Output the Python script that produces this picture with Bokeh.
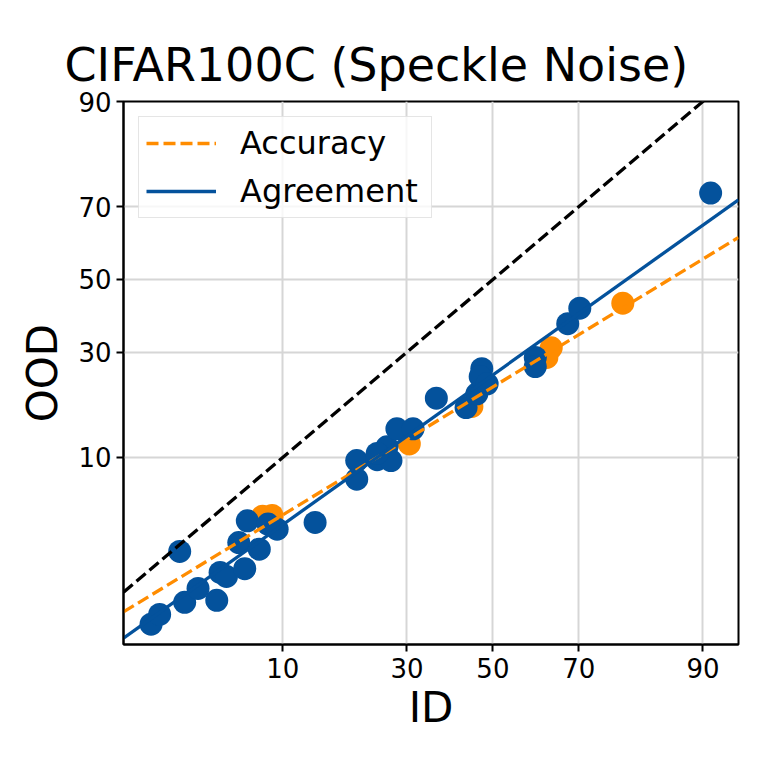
from statistics import NormalDist
from bokeh.plotting import figure
from bokeh.models import Range1d, FixedTicker, CustomJSTickFormatter, Legend, LegendItem, Title
from bokeh.embed import file_html
from bokeh.resources import INLINE

# ---- data (percent) ----
title_text = "CIFAR100C (Speckle Noise)"
tick_values = [10, 30, 50, 70, 90]
tick_labels = ["10", "30", "50", "70", "90"]

blue_id = [2.8, 1.85, 2.1, 3.0, 3.6, 4.6, 4.8, 5.2, 6.5, 6.05, 6.7, 7.7, 8.5, 9.4, 13.9,
           20.3, 20.3, 24.0, 25.9, 27.9, 31.3, 26.7, 24.0, 36.5, 43.5, 46.1, 47.3, 46.9,
           48.6, 60.2, 60.2, 67.6, 70.2, 90.8]
blue_ood = [2.5, 0.65, 0.79, 1.0, 1.3, 1.04, 1.74, 1.62, 1.86, 2.9, 4.1, 2.6, 3.9, 3.6, 4.0,
            9.6, 7.5, 9.7, 11.4, 14.1, 14.1, 9.6, 10.5, 19.6, 17.8, 20.5, 26.0, 24.2,
            22.6, 28.7, 26.5, 37.5, 41.8, 73.3]

orange_id = [8.0, 8.9, 30.5, 44.9, 62.9, 63.9, 78.6]
orange_ood = [4.4, 4.45, 11.8, 18.0, 28.7, 31.1, 43.2]

line_id = [1.21, 93.3]
acc_fit_ood = [0.83, 61.9]
agr_fit_ood = [0.487, 71.7]
diag_ood = [1.21, 93.3]

x_lim = [1.21, 93.3]
y_lim = [0.427, 90.0]

BLUE = "#04529c"
ORANGE = "#ff8c00"
FONT = "DejaVu Sans"

nd = NormalDist()


def probit(vals):
    return [nd.inv_cdf(v / 100.0) for v in vals]


p = figure(width=761, height=761, output_backend="svg", toolbar_location=None,
           x_range=Range1d(*probit(x_lim)), y_range=Range1d(*probit(y_lim)),
           min_border_left=123, min_border_right=23, min_border_top=101, min_border_bottom=117)

p.title = Title(text=title_text, align="left", offset=-59, text_font=FONT,
                text_font_size="46px", text_font_style="normal", text_color="black",
                standoff=20)

p.scatter(probit(orange_id), probit(orange_ood), size=23, color=ORANGE, line_color=None)
p.scatter(probit(blue_id), probit(blue_ood), size=23, color=BLUE, line_color=None)

r_acc = p.line(probit(line_id), probit(acc_fit_ood), line_color=ORANGE, line_width=3.3,
               line_dash="12 5")
r_agr = p.line(probit(line_id), probit(agr_fit_ood), line_color=BLUE, line_width=3.3)
p.line(probit(line_id), probit(diag_ood), line_color="black", line_width=3.3, line_dash="12 5")

ticker = FixedTicker(ticks=probit(tick_values))
fmt = CustomJSTickFormatter(args=dict(labels=tick_labels), code="return labels[index];")
for ax in (p.xaxis[0], p.yaxis[0]):
    ax.ticker = ticker
    ax.formatter = fmt
    ax.minor_tick_line_color = None
    ax.major_tick_in = 0
    ax.major_tick_out = 7
    ax.major_tick_line_width = 2
    ax.axis_line_width = 2
    ax.major_label_text_font = FONT
    ax.major_label_text_font_size = "26px"
    ax.major_label_text_color = "black"
    ax.axis_label_text_font = FONT
    ax.axis_label_text_font_size = "42px"
    ax.axis_label_text_font_style = "normal"
    ax.axis_label_text_color = "black"

p.xaxis.axis_label = "ID"
p.yaxis.axis_label = "OOD"
p.xaxis.major_label_standoff = 6
p.yaxis.major_label_standoff = 5
p.xaxis.axis_label_standoff = 2
p.yaxis.axis_label_standoff = 8

p.xgrid.grid_line_color = "#d6d6d6"
p.ygrid.grid_line_color = "#d6d6d6"
p.xgrid.grid_line_width = 2
p.ygrid.grid_line_width = 2

p.outline_line_color = "black"
p.outline_line_width = 2
p.outline_line_alpha = 1

legend = Legend(items=[LegendItem(label="Accuracy", renderers=[r_acc]),
                       LegendItem(label="Agreement", renderers=[r_agr])],
                location="top_left", margin=15, padding=7, spacing=10,
                glyph_width=70, glyph_height=20, label_standoff=24, label_width=184,
                label_text_font=FONT, label_text_font_size="32px", label_text_color="black",
                border_line_color="#cccccc", border_line_width=1.5,
                background_fill_color="white", background_fill_alpha=0.8)
p.add_layout(legend)

open("out.html", "w").write(file_html(p, INLINE))
